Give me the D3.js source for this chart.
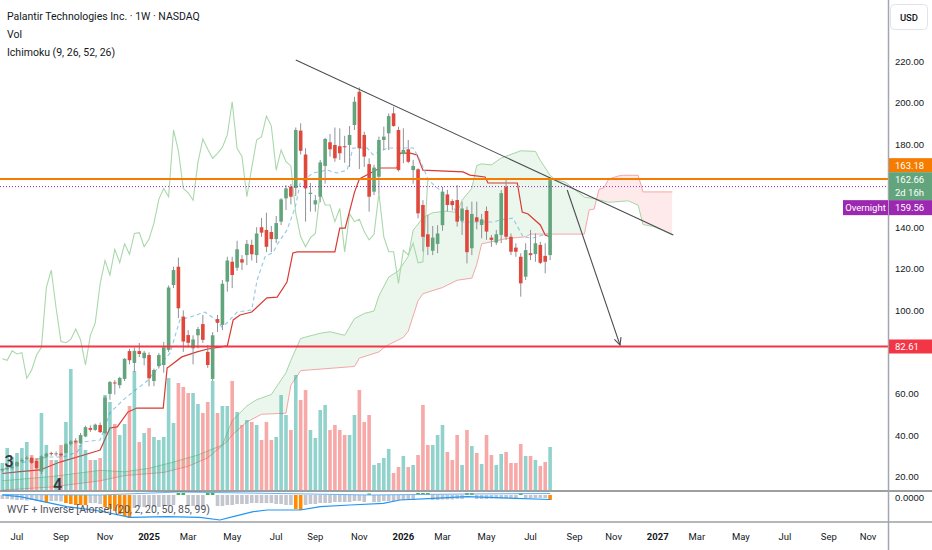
<!DOCTYPE html>
<html>
<head>
<meta charset="utf-8">
<script src="https://cdn.jsdelivr.net/npm/d3@7"></script>
<style>
  body { margin: 0; background: #fff; }
  svg { display: block; font-family: Roboto, "Liberation Sans", sans-serif; }
</style>
</head>
<body>
<svg id="chart" width="932" height="550"></svg>
<script>
// weekly bars, first one is the week of 10 Jun 2024
const firstBar = new Date(2024, 5, 10);

const opens = [
  23.0,23.6,24.0,25.0,27.4,28.5,29.0,27.5,22.4,29.6,
  31.3,31.0,31.0,31.4,35.6,37.0,36.0,39.3,43.4,42.5,
  44.8,41.0,59.8,65.3,64.0,67.0,80.4,74.7,80.4,77.0,
  78.5,66.0,73.2,73.7,81.0,112.2,121.0,97.0,88.1,81.7,
  88.0,93.4,80.0,67.0,95.8,93.0,113.8,123.4,120.5,124.6,
  126.6,131.5,126.6,140.0,138.7,137.7,134.3,142.7,153.9,159.5,
  158.9,186.5,175.0,156.0,151.0,154.7,169.5,180.9,179.6,179.0,
  179.0,179.6,189.2,205.2,184.4,170.4,157.1,164.3,182.0,185.2,
  194.8,186.8,175.2,177.5,167.5,167.9,150.7,136.6,128.7,132.0,
  141.0,155.8,152.6,153.1,143.1,148.3,129.9,144.8,141.1,147.8,
  135.0,132.6,136.3,159.5,135.4,130.2,125.8,116.2,127.5,127.1,
  131.5,126.2,126.6];
const highs = [
  24.0,25.5,25.0,27.3,29.0,30.0,29.6,28.0,30.3,31.6,
  32.0,32.1,31.6,36.2,37.6,38.5,41.0,44.5,44.6,45.5,
  46.0,58.8,66.0,66.5,68.0,77.0,81.5,82.0,84.3,80.5,
  79.8,72.0,79.5,84.8,112.0,121.0,125.4,100.0,90.5,88.0,
  92.0,97.8,83.3,89.5,97.8,114.6,125.8,125.8,133.5,126.6,
  133.9,134.0,140.0,144.4,147.0,140.6,145.4,154.0,160.3,160.8,
  188.0,190.0,178.0,161.3,155.5,172.4,183.0,184.9,188.0,187.6,
  184.0,188.7,202.8,207.3,186.0,173.2,170.0,183.6,188.4,194.8,
  198.0,188.4,187.6,182.0,172.4,168.4,153.0,145.9,140.6,141.0,
  159.5,158.0,153.5,160.3,152.3,149.9,152.3,152.3,146.4,150.0,
  136.3,138.7,157.9,163.5,137.0,132.3,127.5,132.3,138.7,137.0,
  133.0,132.3,164.0];
const lows = [
  22.3,23.0,23.4,24.5,26.8,27.9,26.0,23.5,21.2,29.0,
  30.0,29.8,29.4,31.0,35.0,35.8,35.5,39.0,41.5,42.0,
  41.0,40.5,57.0,59.5,62.5,66.0,74.0,70.3,77.5,73.5,
  63.4,63.5,72.0,70.0,80.0,110.7,96.3,80.0,82.0,74.0,
  81.7,84.3,72.3,66.0,89.6,90.5,109.0,110.7,119.0,119.4,
  121.8,124.0,122.8,135.4,128.0,128.0,132.4,141.0,148.3,151.0,
  155.0,175.0,142.7,147.5,147.5,152.0,161.0,174.0,171.5,172.4,
  171.0,169.0,186.8,168.0,169.0,147.5,155.5,156.3,177.2,177.2,
  188.4,166.8,170.8,170.8,161.0,144.3,128.3,126.6,126.6,127.5,
  138.3,147.5,148.0,140.3,136.3,122.6,126.6,139.0,134.7,133.9,
  130.6,131.5,132.3,133.9,126.6,125.8,106.6,114.6,124.2,123.4,
  122.3,117.8,124.2];
const closes = [
  23.6,24.2,24.7,27.0,28.0,29.1,26.6,24.1,29.8,31.0,
  31.0,31.2,30.2,35.6,37.0,36.6,40.0,43.8,42.5,45.0,
  41.4,58.0,65.5,64.8,67.5,76.7,76.0,80.5,79.0,79.6,
  67.3,71.3,78.5,82.2,111.0,119.4,101.0,85.0,84.4,86.0,
  91.0,85.8,73.7,88.0,94.0,112.8,124.0,117.0,129.4,123.0,
  132.0,127.0,137.0,137.4,130.6,134.3,142.0,153.4,158.7,154.7,
  186.8,176.8,158.7,156.6,153.0,171.2,182.5,177.5,173.2,175.6,
  178.5,184.4,200.4,178.0,174.0,154.7,168.7,182.0,183.6,193.5,
  188.7,167.5,177.2,171.5,169.5,146.7,135.4,130.6,135.0,137.0,
  157.1,150.7,150.7,142.7,149.0,128.0,146.4,142.7,143.8,137.9,
  133.9,136.6,156.4,135.4,128.2,128.2,113.0,129.0,126.6,132.3,
  122.9,123.4,162.66];
// weekly volume, millions
const volumes = [
  108,168,132,148,168,192,140,128,308,180,
  120,120,180,272,484,200,180,160,120,120,
  128,380,352,264,220,264,336,476,192,228,
  248,212,200,212,448,268,428,412,388,388,
  344,308,352,436,308,336,336,436,312,260,
  280,272,260,200,272,200,212,380,300,240,
  460,360,400,240,208,320,340,240,260,240,
  220,220,300,400,272,300,100,108,128,164,
  68,92,136,92,100,140,340,180,180,220,
  260,152,120,220,100,240,176,148,104,220,
  140,100,144,152,108,108,184,136,136,120,
  96,112,172];

// Ichimoku lines: bar index / price
const tenkanIdx = [0,3.6,6.3,9.1,12.4,15.3,16.5,20,22,24.7,26.7,29.6,34.3,36.3,38.4,41.4,42.9,44.9,45.9,48,51,52.1,53.7,55.4,56.4,58.2,59.9,60.9,63.5,66.4,68.4,70.5,71.7,74.6,75.8,78.7,84,85.4,87.1,90.1,92.2,94,100.4,101.8,104.4,105.5,106.5,108.5,112];
const tenkanVal = [23.2,26.5,28,29.4,29.4,31.8,36.7,37.6,50.6,56.9,60.7,66,79.5,95.4,96.8,99.2,96.8,92,93.9,99.2,100.2,114.6,125.7,128.1,132.4,138.7,149.7,161.3,166.1,167.5,166.1,167.5,178.1,178.1,174.8,178.1,178.1,172.4,162.7,156.5,149.7,142.5,142.5,143.5,144.4,139.6,135.3,134.8,137.2];
const kijunIdx = [0,3.6,7.7,11.8,19.4,20,22,23.5,25.7,27.5,32.9,33.7,34,36.7,39.8,42,46,47.2,48.6,51,54.1,56.2,58.2,59.4,60.3,68,69,70.1,72,73,77.2,80.7,81.3,83.4,84.8,86,94.2,95.6,98.7,99.3,105.3,106.3,107.5,110,111,112];
const kijunVal = [21.5,22.4,23.2,27,32.3,32.8,43.4,43.9,51.1,53,53,72.3,72.7,77.6,80,81.4,82.9,95.4,97.8,99.2,106,106.4,113.6,127.6,128.1,128.1,139.6,139.6,156.8,163.2,168.5,168.5,175.7,175.7,174.8,167.5,166.6,165.1,164.2,161.3,161.3,147.3,146.4,141.1,136.3,135.3];
const spanAIdx = [0,10,20,25,30,35,40,45,47,50,52,55,58,59,61,65,67,70,72,74,76,77,79,81,83,84,85,86,88,91,93,94,96,97,98,100,102,106,109,110,112,113,115,117,119,121,124,128,130,131,133,135,137];
const spanAVal = [18,20,23,22.3,24,27,30.4,35.2,47,54,57,59.5,70,76,86.5,89,89.7,88,96,98.5,99.7,107,116,119,126,138.6,141.5,144.7,147,147.8,147,153,158.8,169.7,170.5,170,173.3,176.8,176.5,172.2,165,163,161.8,158.3,154.5,153.8,152,152.7,150.6,141.3,140.4,138.5,136.3];
const spanBIdx = [0,10,20,25,33,38,42,46,47,50,53,58,59,61,72,73,77,78,79,82,83,85,86,90,93,96,97,98,103,107,108,119,120,121,122,123,124,126,127,130,131,137];
const spanBVal = [13.5,15,18,20.5,22,25,29,37,40,46.3,50,50.5,64,71,73,77,80,82,83.5,87,90,104.6,108,111,114.5,115.5,122,132,134.5,135.4,136.7,136.7,148.4,148.7,158.2,159,163.2,164.7,165,165,157,157];
const laggingShift = 25;

// WVF + Inverse histogram per bar, and its two lines
const wvf = [
  -4,-4,-4.5,-5,-5,-5.5,-5,-6,-7,-7,
  -6,-6,-6.5,-8,-9,-10,-10,-10,-8,-8,
  -9,-12,-14,-16,-19,-21,-23,-13,-12,-12,
  -11,-12,-12,-11,-11,-10,2,2,-11,-11,
  -12,-12,2,2,-11,-11,-10,-10,-9,-9,
  -9,-8,-8,-8,-8,-8,-9,-9,-10,-10,
  -14,-15,-10,-9,-9,-8,-8,-8,-7,-7,
  -7,-7,-6,-6,-7,1.5,-7,-7,-6,-6,
  -6,-5,-5,-5,-5,2,2,2,-5,-5,
  -4.5,-4.5,-4.5,-4,-4,2,2,-4,-4,-4,
  -3.5,-3.5,-3.5,-3.5,-3,-3,2,-3,-3,-3,
  -3,-3,-5];
const wvfOrange = [9,13,14,15,16,17,21,22,23,24,25,26,60,61,112];
const wvfLineIdx = [0,3.6,8.4,13.2,20,26.1,33.6,40.4,44.5,47.2,51.3,54.1,60.9,65,71.1,77.9,81.3,88.1,95,112];
const wvfLineVal = [0,-1.7,-6.7,-11.7,-16,-22.3,-21.7,-22.3,-25,-21.7,-16.7,-15,-15,-11.7,-10,-8.3,-5,-3.3,-1.7,-4.5];
const wvfUpperIdx = [0,20,36,50,75,95,112];
const wvfUpperVal = [0.5,0,3,2,0,1,1.5];

// drawings
const trendLine = [[60, 220.5], [137.2, 136.3]];
const arrowLine = [[115.5, 157.9], [126.3, 83.3]];
const waveLabels = [{text: "3", bar: 1.4, price: 24.6}, {text: "4", bar: 11.3, price: 13.6}];
const resistance = 163.18, support = 82.61, overnight = 159.56;
// 80 and 160 sit under the price tags, so they are not shown
const priceTicks = [20, 40, 60, 100, 120, 140, 180, 200, 220];

const svg = d3.select("#chart");
const plotR = 888, priceB = 491, wvfB = 522;
const WEEK = 7 * 864e5;
const barDate = i => new Date(+firstBar + i * WEEK);

const x = d3.scaleTime().domain([new Date(2024, 6, 1), new Date(2027, 10, 1)]).range([17, 868]);
const xb = i => x(barDate(i));
const y = d3.scaleLinear().domain([20, 220]).range([476.6, 61]);
const yVol = d3.scaleLinear().domain([0, 600]).range([490, 340]);
const yW = d3.scaleLinear().domain([-26, 4]).range([521, 491]);

const upCol = "#62a57c", downCol = "#e0483c";
const line = d3.line();

const defs = svg.append("defs");
defs.append("clipPath").attr("id", "pricePane")
  .append("rect").attr("x", 0).attr("y", 0).attr("width", plotR).attr("height", priceB);
defs.append("clipPath").attr("id", "wvfPane")
  .append("rect").attr("x", 0).attr("y", priceB).attr("width", plotR).attr("height", wvfB - priceB);

const pA = spanAIdx.map((d, k) => [xb(d), y(spanAVal[k])]);
const pB = spanBIdx.map((d, k) => [xb(d), y(spanBVal[k])]);
const above = pts => line(pts) + `L${pts[pts.length - 1][0]},-50L${pts[0][0]},-50Z`;
defs.append("clipPath").attr("id", "aboveB").append("path").attr("d", above(pB));
defs.append("clipPath").attr("id", "aboveA").append("path").attr("d", above(pA));

const pane = svg.append("g").attr("clip-path", "url(#pricePane)");

// cloud
const cloud = line(pA.concat(pB.slice().reverse())) + "Z";
pane.append("g").attr("clip-path", "url(#aboveB)")
  .append("path").attr("d", cloud).attr("fill", "rgba(76,175,80,0.11)");
pane.append("g").attr("clip-path", "url(#aboveA)")
  .append("path").attr("d", cloud).attr("fill", "rgba(242,54,69,0.11)");
pane.append("path").attr("d", line(pA)).attr("fill", "none").attr("stroke", "#a5d6a7").attr("stroke-width", 1);
pane.append("path").attr("d", line(pB)).attr("fill", "none").attr("stroke", "#f4a6a6").attr("stroke-width", 1);

// lagging span
const lag = closes.slice(laggingShift).map((c, k) => [xb(k), y(c)]);
pane.append("path").attr("d", line(lag)).attr("fill", "none").attr("stroke", "#a9d8ab").attr("stroke-width", 1.1);

// base and conversion lines
pane.append("path").attr("d", line(kijunIdx.map((d, k) => [xb(d), y(kijunVal[k])])))
  .attr("fill", "none").attr("stroke", "#d93a33").attr("stroke-width", 1.2);
pane.append("path").attr("d", line(tenkanIdx.map((d, k) => [xb(d), y(tenkanVal[k])])))
  .attr("fill", "none").attr("stroke", "#8ec9e6").attr("stroke-width", 1.1).attr("stroke-dasharray", "4,3");

// volume
const bw = 3.6;
pane.append("g").selectAll("rect").data(volumes).join("rect")
  .attr("x", (v, i) => xb(i) - bw / 2)
  .attr("y", v => yVol(v))
  .attr("width", bw)
  .attr("height", v => yVol(0) - yVol(v))
  .attr("fill", (v, i) => closes[i] >= opens[i] ? "rgba(38,166,154,0.5)" : "rgba(239,83,80,0.5)");

// candles
const cg = pane.append("g");
cg.selectAll("line").data(closes).join("line")
  .attr("x1", (c, i) => xb(i)).attr("x2", (c, i) => xb(i))
  .attr("y1", (c, i) => y(highs[i])).attr("y2", (c, i) => y(lows[i]))
  .attr("stroke", "#8f9299").attr("stroke-width", 1);
cg.selectAll("rect").data(closes).join("rect")
  .attr("x", (c, i) => xb(i) - 1.8)
  .attr("width", 3.6)
  .attr("y", (c, i) => y(Math.max(c, opens[i])))
  .attr("height", (c, i) => Math.max(1, Math.abs(y(c) - y(opens[i]))))
  .attr("fill", (c, i) => c >= opens[i] ? upCol : downCol);

// trend line and arrow
const tp = trendLine.map(d => [xb(d[0]), y(d[1])]);
pane.append("path").attr("d", line(tp)).attr("stroke", "#4a4c52").attr("stroke-width", 1.1).attr("fill", "none");
const ap = arrowLine.map(d => [xb(d[0]), y(d[1])]);
pane.append("path").attr("d", line(ap)).attr("stroke", "#4a4c52").attr("stroke-width", 1.1).attr("fill", "none");
const ang = Math.atan2(ap[1][1] - ap[0][1], ap[1][0] - ap[0][0]);
const head = [-0.45, 0.45].map(a => [ap[1][0] - 8 * Math.cos(ang + a), ap[1][1] - 8 * Math.sin(ang + a)]);
pane.append("path").attr("d", line([head[0], ap[1], head[1]])).attr("stroke", "#4a4c52").attr("stroke-width", 1.1).attr("fill", "none");

// horizontal levels
pane.append("line").attr("x1", 0).attr("x2", plotR).attr("y1", y(overnight)).attr("y2", y(overnight))
  .attr("stroke", "#9c27b0").attr("stroke-width", 1).attr("stroke-dasharray", "1,2");
pane.append("line").attr("x1", 0).attr("x2", plotR).attr("y1", y(resistance)).attr("y2", y(resistance))
  .attr("stroke", "#f57c00").attr("stroke-width", 2);
pane.append("line").attr("x1", 0).attr("x2", plotR).attr("y1", y(support)).attr("y2", y(support))
  .attr("stroke", "#f23645").attr("stroke-width", 2);

pane.selectAll("text.wave").data(waveLabels).join("text").attr("class", "wave")
  .attr("x", d => xb(d.bar)).attr("y", d => y(d.price))
  .attr("text-anchor", "middle").attr("font-size", 16).attr("font-weight", 600)
  .attr("fill", "#363a45").text(d => d.text);

// legend
const legend = ["Palantir Technologies Inc. · 1W · NASDAQ", "Vol", "Ichimoku (9, 26, 52, 26)"];
svg.append("g").selectAll("text").data(legend).join("text")
  .attr("x", 7).attr("y", (d, i) => 20 + i * 18)
  .attr("font-size", 10.5).attr("fill", "#131722").text(d => d);

// WVF pane
const wp = svg.append("g").attr("clip-path", "url(#wvfPane)");
wp.selectAll("rect").data(wvf).join("rect")
  .attr("x", (v, i) => xb(i) - 1.8).attr("width", 3.6)
  .attr("y", v => yW(Math.max(0, v)))
  .attr("height", v => Math.abs(yW(v) - yW(0)))
  .attr("fill", (v, i) => v > 0 ? "#4caf50" : wvfOrange.includes(i) ? "#ff8c00" : "#c3c6ce");
wp.append("path").attr("d", line(wvfUpperIdx.map((d, k) => [xb(d), yW(wvfUpperVal[k])])))
  .attr("fill", "none").attr("stroke", "#64b5f6").attr("stroke-width", 1);
wp.append("path").attr("d", line(wvfLineIdx.map((d, k) => [xb(d), yW(wvfLineVal[k])])))
  .attr("fill", "none").attr("stroke", "#2196f3").attr("stroke-width", 1.2);
svg.append("text").attr("x", 7).attr("y", 513).attr("font-size", 10.5).attr("fill", "#50535e")
  .text("WVF + Inverse [Alorse] (20, 2, 20, 50, 85, 99)");

// pane separators and axis line
svg.append("line").attr("x1", 0).attr("x2", 932).attr("y1", priceB).attr("y2", priceB).attr("stroke", "#3d3f45").attr("stroke-width", 1);
svg.append("line").attr("x1", 0).attr("x2", 932).attr("y1", wvfB).attr("y2", wvfB).attr("stroke", "#6b6e76").attr("stroke-width", 1);
svg.append("line").attr("x1", plotR + 0.5).attr("x2", plotR + 0.5).attr("y1", 0).attr("y2", 550).attr("stroke", "#a3a6af").attr("stroke-width", 1.5);

// price axis
const axisG = svg.append("g").attr("transform", `translate(${plotR},0)`)
  .call(d3.axisRight(y).tickValues(priceTicks).tickFormat(d3.format(".2f")).tickSize(0).tickPadding(7));
axisG.select(".domain").remove();
axisG.selectAll("text").attr("font-size", 9.5).attr("fill", "#131722").attr("font-family", null);

const wAxis = svg.append("g").attr("transform", `translate(${plotR},0)`)
  .call(d3.axisRight(yW).tickValues([0]).tickFormat(d3.format(".4f")).tickSize(0).tickPadding(7));
wAxis.select(".domain").remove();
wAxis.selectAll("text").attr("font-size", 9.5).attr("fill", "#131722").attr("font-family", null).attr("dy", "0.55em");

// USD box
svg.append("rect").attr("x", 890.5).attr("y", 4.5).attr("width", 37).attr("height", 25).attr("rx", 4)
  .attr("fill", "#fff").attr("stroke", "#e0e3eb");
svg.append("text").attr("x", 909).attr("y", 20.5).attr("text-anchor", "middle").attr("font-size", 9.5)
  .attr("font-weight", 500).attr("fill", "#131722").text("USD");

// price labels, stacked like the platform does
const fmt = d3.format(".2f");
const lastY = y(closes[closes.length - 1]);
const greenTop = lastY - 8, greenBot = lastY + 20;
function tag(x0, y0, w, h, fill, lines) {
  svg.append("rect").attr("x", x0).attr("y", y0).attr("width", w).attr("height", h).attr("fill", fill);
  lines.forEach((t, k) => svg.append("text").attr("x", x0 + 6).attr("y", y0 + 10.5 + k * 13)
    .attr("font-size", 9.5).attr("fill", "#fff").text(t));
}
tag(889, greenTop - 14, 43, 14, "#f57c00", [fmt(resistance)]);
tag(889, greenTop, 43, greenBot - greenTop, upCol, [fmt(closes[closes.length - 1]), "2d 16h"]);
tag(889, greenBot, 43, 15, "#9c27b0", [fmt(overnight)]);
svg.append("rect").attr("x", 843).attr("y", greenBot).attr("width", 45).attr("height", 15).attr("fill", "#9c27b0");
svg.append("text").attr("x", 865.5).attr("y", greenBot + 11).attr("text-anchor", "middle")
  .attr("font-size", 9.5).attr("fill", "#fff").text("Overnight");
tag(889, y(support) - 7, 43, 14, "#f23645", [fmt(support)]);

// time axis
const months = d3.timeMonth.every(2).range(new Date(2024, 6, 1), new Date(2027, 11, 1));
svg.append("g").selectAll("text").data(months).join("text")
  .attr("x", d => x(d3.timeMonday.ceil(d)))
  .attr("y", 539.5)
  .attr("text-anchor", "middle")
  .attr("font-size", 9.5)
  .attr("font-weight", d => d.getMonth() === 0 ? 700 : 400)
  .attr("fill", "#131722")
  .text(d => d.getMonth() === 0 ? d3.timeFormat("%Y")(d) : d3.timeFormat("%b")(d));
</script>
</body>
</html>
